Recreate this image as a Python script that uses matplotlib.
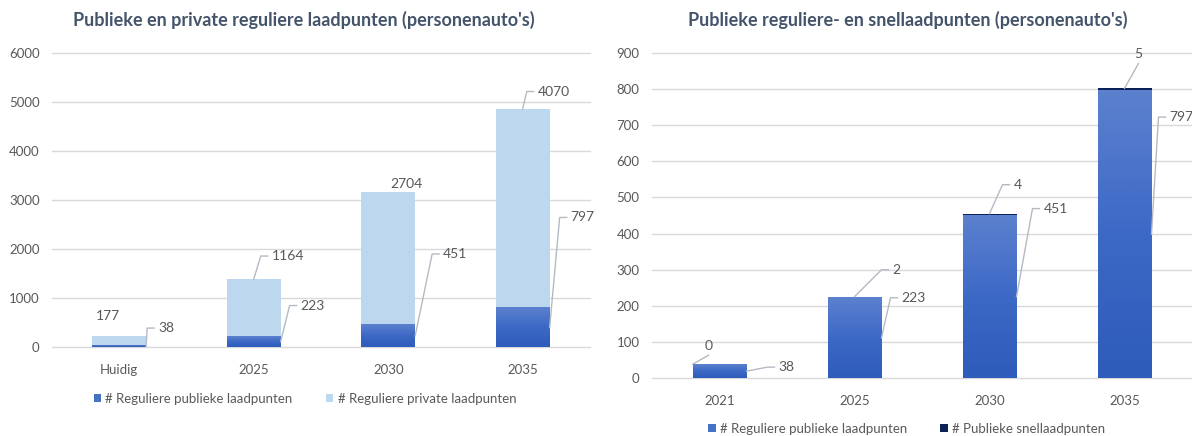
import matplotlib

matplotlib.use("Agg")

import matplotlib.pyplot as plt
import numpy as np
from matplotlib.colors import LinearSegmentedColormap

plt.rcParams["font.family"] = ["Lato", "DejaVu Sans"]

# ---- data ----
left_categories = ["Huidig", "2025", "2030", "2035"]
left_public = [38, 223, 451, 797]
left_private = [177, 1164, 2704, 4070]
left_yticks = [0, 1000, 2000, 3000, 4000, 5000, 6000]

right_categories = ["2021", "2025", "2030", "2035"]
right_public = [38, 223, 451, 797]
right_fast = [0, 2, 4, 5]
right_yticks = [0, 100, 200, 300, 400, 500, 600, 700, 800, 900]

# ---- style ----
TEXT = "#595959"
TITLE = "#44546A"
GRID = "#D9D9D9"
LEADER = "#B4BAC4"
BLUE = "#4472C4"
LIGHT = "#BDD7EE"
NAVY = "#0C2157"
BAR_W = 0.40
blue_grad = LinearSegmentedColormap.from_list("bg", ["#2E5CBA", "#3D69C6", "#5B80CE"])

# label placement: (anchor, dx px, dy px, kind)
left_public_pos = [("right_mid", 1, 18, "side"), ("right_mid", 9, 36, "side"),
                   ("right_mid", 17, 82, "side"), ("right_mid", 10, 110, "side")]
left_private_pos = [("top", -11, 20, "plain"), ("top", 7, 23, "side"),
                    ("top", 18, 8, "plain"), ("top", 4, 17, "side")]
right_public_pos = [("right_mid", 21, 4, "side"), ("right_mid", 9, 40, "side"),
                    ("right_mid", 16, 88, "side"), ("right_mid", 7, 117, "side")]
right_fast_pos = [("top_left", 16, 9, "above"), ("top", 27, 27, "side"),
                  ("top", 13, 29, "side"), ("top", 14, 25, "above")]


def style_axes(ax, yticks, cats):
    ax.set_xlim(-0.5, len(cats) - 0.5)
    ax.set_ylim(yticks[0], yticks[-1])
    ax.set_yticks(yticks)
    ax.set_xticks(range(len(cats)), cats)
    for s in ax.spines.values():
        s.set_visible(False)
    ax.grid(axis="y", color=GRID, lw=1)
    ax.set_axisbelow(True)
    for line in ax.get_ygridlines():
        line.set_clip_on(False)
    ax.tick_params(length=0, colors=TEXT, labelsize=9.5)
    ax.tick_params(axis="y", pad=9)
    ax.tick_params(axis="x", pad=12)


def gradient_fill(ax, bars):
    for b in bars:
        x0, y0 = b.get_x(), b.get_y()
        if b.get_height() <= 0:
            continue
        ax.imshow(np.linspace(0, 1, 64).reshape(-1, 1),
                  extent=[x0, x0 + b.get_width(), y0, y0 + b.get_height()],
                  origin="lower", aspect="auto", cmap=blue_grad,
                  interpolation="bilinear", zorder=2.5)


def anchor_point(i, bottom, height, where):
    if where == "right_mid":
        return (i + BAR_W / 2, bottom + height / 2)
    if where == "top_left":
        return (i - BAR_W / 2, bottom + height)
    return (i, bottom + height)


def put_labels(ax, bottoms, heights, positions):
    tr = ax.transData
    inv = tr.inverted()
    for i, (b, h, (where, dx, dy, kind)) in enumerate(zip(bottoms, heights, positions)):
        a = np.array(tr.transform(anchor_point(i, b, h, where)))
        elbow = a + (dx, dy)
        txt = str(h)
        kw = dict(color=TEXT, fontsize=10, clip_on=False, zorder=5)
        if kind == "plain":
            ax.text(*inv.transform(elbow), txt, ha="center", va="center", **kw)
            continue
        if kind == "above":
            pts = [a, elbow]
            ax.text(*inv.transform(elbow + (0, 3)), txt, ha="center", va="bottom", **kw)
        else:
            pts = [a, elbow, elbow + (7, 0)]
            ax.text(*inv.transform(elbow + (11, 0)), txt, ha="left", va="center", **kw)
        pts = inv.transform(np.array(pts))
        ax.plot(pts[:, 0], pts[:, 1], color=LEADER, lw=1, clip_on=False, zorder=4)


def add_legend(ax, anchor):
    ax.legend(loc="center", bbox_to_anchor=anchor, ncol=2, frameon=False,
              fontsize=9.5, labelcolor=TEXT, handlelength=0.55, handleheight=0.55,
              handletextpad=0.35, columnspacing=2.5)


fig = plt.figure(figsize=(11.92, 4.36), dpi=100)
ax1 = fig.add_axes([52 / 1192, 89 / 436, 538 / 1192, 294 / 436])
ax2 = fig.add_axes([652 / 1192, 58 / 436, 540 / 1192, 325 / 436])

# left chart: stacked public + private
x = np.arange(len(left_categories))
b_pub = ax1.bar(x, left_public, BAR_W, color=BLUE, zorder=2,
                label="# Reguliere publieke laadpunten")
b_priv = ax1.bar(x, left_private, BAR_W, bottom=left_public, color=LIGHT, zorder=2,
                 label="# Reguliere private laadpunten")
gradient_fill(ax1, b_pub)
style_axes(ax1, left_yticks, left_categories)
add_legend(ax1, (0.470, -0.177))

# right chart: public regular + fast
x = np.arange(len(right_categories))
r_pub = ax2.bar(x, right_public, BAR_W, color=BLUE, zorder=2,
                label="# Reguliere publieke laadpunten")
r_fast = ax2.bar(x, right_fast, BAR_W, bottom=right_public, color=NAVY, zorder=3,
                 label="# Publieke snellaadpunten")
gradient_fill(ax2, r_pub)
style_axes(ax2, right_yticks, right_categories)
add_legend(ax2, (0.472, -0.157))

put_labels(ax1, [0] * 4, left_public, left_public_pos)
put_labels(ax1, left_public, left_private, left_private_pos)
put_labels(ax2, [0] * 4, right_public, right_public_pos)
put_labels(ax2, right_public, right_fast, right_fast_pos)

fig.text(304 / 1192, 1 - 20 / 436, "Publieke en private reguliere laadpunten (personenauto's)",
         ha="center", va="center", fontsize=13, fontweight="bold", color=TITLE)
fig.text(908 / 1192, 1 - 20 / 436, "Publieke reguliere- en snellaadpunten (personenauto's)",
         ha="center", va="center", fontsize=13, fontweight="bold", color=TITLE)

fig.savefig("out.png", dpi=100)
